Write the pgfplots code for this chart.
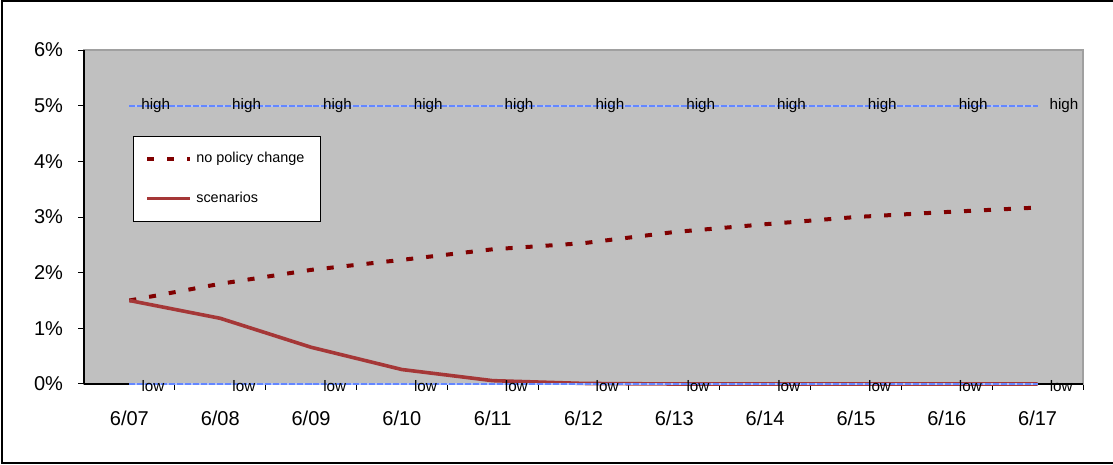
\documentclass[border=0pt]{standalone}
\usepackage{pgfplots}
\pgfplotsset{compat=1.18}
\usepackage{fontspec}
\setmainfont{Liberation Sans}
\definecolor{plotgray}{RGB}{192,192,192}
\definecolor{framegray}{RGB}{160,160,160}
\definecolor{darkred}{RGB}{128,0,0}
\definecolor{scenred}{RGB}{165,55,55}
\definecolor{lineblue}{RGB}{100,135,255}
\definecolor{lightblue}{RGB}{175,195,255}
\begin{document}
\begin{tikzpicture}
\useasboundingbox (0,0) rectangle (556.5pt,232.5pt);
\draw[line width=1pt] (600pt,231.8pt) -- (0.9pt,231.8pt) -- (0.9pt,1pt) -- (600pt,1pt);
\begin{axis}[
  at={(42pt,40.5pt)}, anchor=south west,
  scale only axis, width=499.5pt, height=167pt,
  xmin=-0.5, xmax=10.5, ymin=0, ymax=6,
  clip=false,
  axis background/.style={fill=plotgray},
  axis line style={framegray, line width=0.8pt},
  tick pos=left, tick align=outside,
  xtick={0,...,10},
  xticklabels={6/07,6/08,6/09,6/10,6/11,6/12,6/13,6/14,6/15,6/16,6/17},
  minor xtick={0.5,1.5,...,10.5},
  major x tick style={draw=none},
  minor x tick style={black, line width=0.5pt},
  minor tick length=3pt,
  major tick length=3pt,
  ytick={0,1,...,6},
  yticklabels={0\%,1\%,2\%,3\%,4\%,5\%,6\%},
  y tick style={black, line width=0.5pt},
  ticklabel style={font=\fontsize{10}{12}\selectfont},
  xticklabel style={anchor=north, yshift=-7pt},
  yticklabel style={anchor=east, xshift=-4pt},
  legend style={at={(0.049,0.7425)}, anchor=north west, draw=black, fill=white,
    font=\fontsize{7.2}{8}\selectfont, inner xsep=6pt, inner ysep=6pt, row sep=9pt,
    cells={anchor=west}},
  legend image code/.code={\draw[#1] (0pt,0pt) -- (21.5pt,0pt);},
]
\addplot[black, line width=0.6pt, forget plot] coordinates {(-0.5,0) (-0.5,6)};
\addplot[black, line width=0.6pt, forget plot] coordinates {(-0.5,0) (0,0)};
\addplot[black, line width=0.6pt, forget plot] coordinates {(10,0) (10.5,0)};
\addplot[darkred, line width=2pt, dash pattern=on 3.5pt off 6.5pt] coordinates {
(0,1.50) (1,1.80) (2,2.05) (3,2.23) (4,2.42) (5,2.53) (6,2.73) (7,2.87) (8,3.00) (9,3.09) (10,3.17)};
\addlegendentry{no policy change}
\addplot[scenred, line width=1.8pt] coordinates {
(0,1.50) (1,1.18) (2,0.66) (3,0.26) (4,0.06) (5,0.01) (6,0) (7,0) (8,0) (9,0) (10,0)};
\addlegendentry{scenarios}
\addplot[lightblue, line width=1pt, forget plot] coordinates {(0,5) (10,5)};
\addplot[lineblue, line width=1pt, dash pattern=on 3pt off 1pt, forget plot,
  nodes near coords={high},
  every node near coord/.append style={anchor=west, black, inner sep=0pt, xshift=5.5pt, font=\fontsize{7.6}{9}\selectfont}]
  coordinates {(0,5) (1,5) (2,5) (3,5) (4,5) (5,5) (6,5) (7,5) (8,5) (9,5) (10,5)};
\addplot[lightblue, line width=1.2pt, forget plot] coordinates {(0,0) (10,0)};
\addplot[lineblue, line width=1.2pt, dash pattern=on 3pt off 1pt, forget plot,
  nodes near coords={low},
  every node near coord/.append style={anchor=west, black, inner sep=0pt, xshift=5.5pt, yshift=-0.8pt, font=\fontsize{7.6}{9}\selectfont}]
  coordinates {(0,0) (1,0) (2,0) (3,0) (4,0) (5,0) (6,0) (7,0) (8,0) (9,0) (10,0)};
\end{axis}
\end{tikzpicture}
\end{document}
